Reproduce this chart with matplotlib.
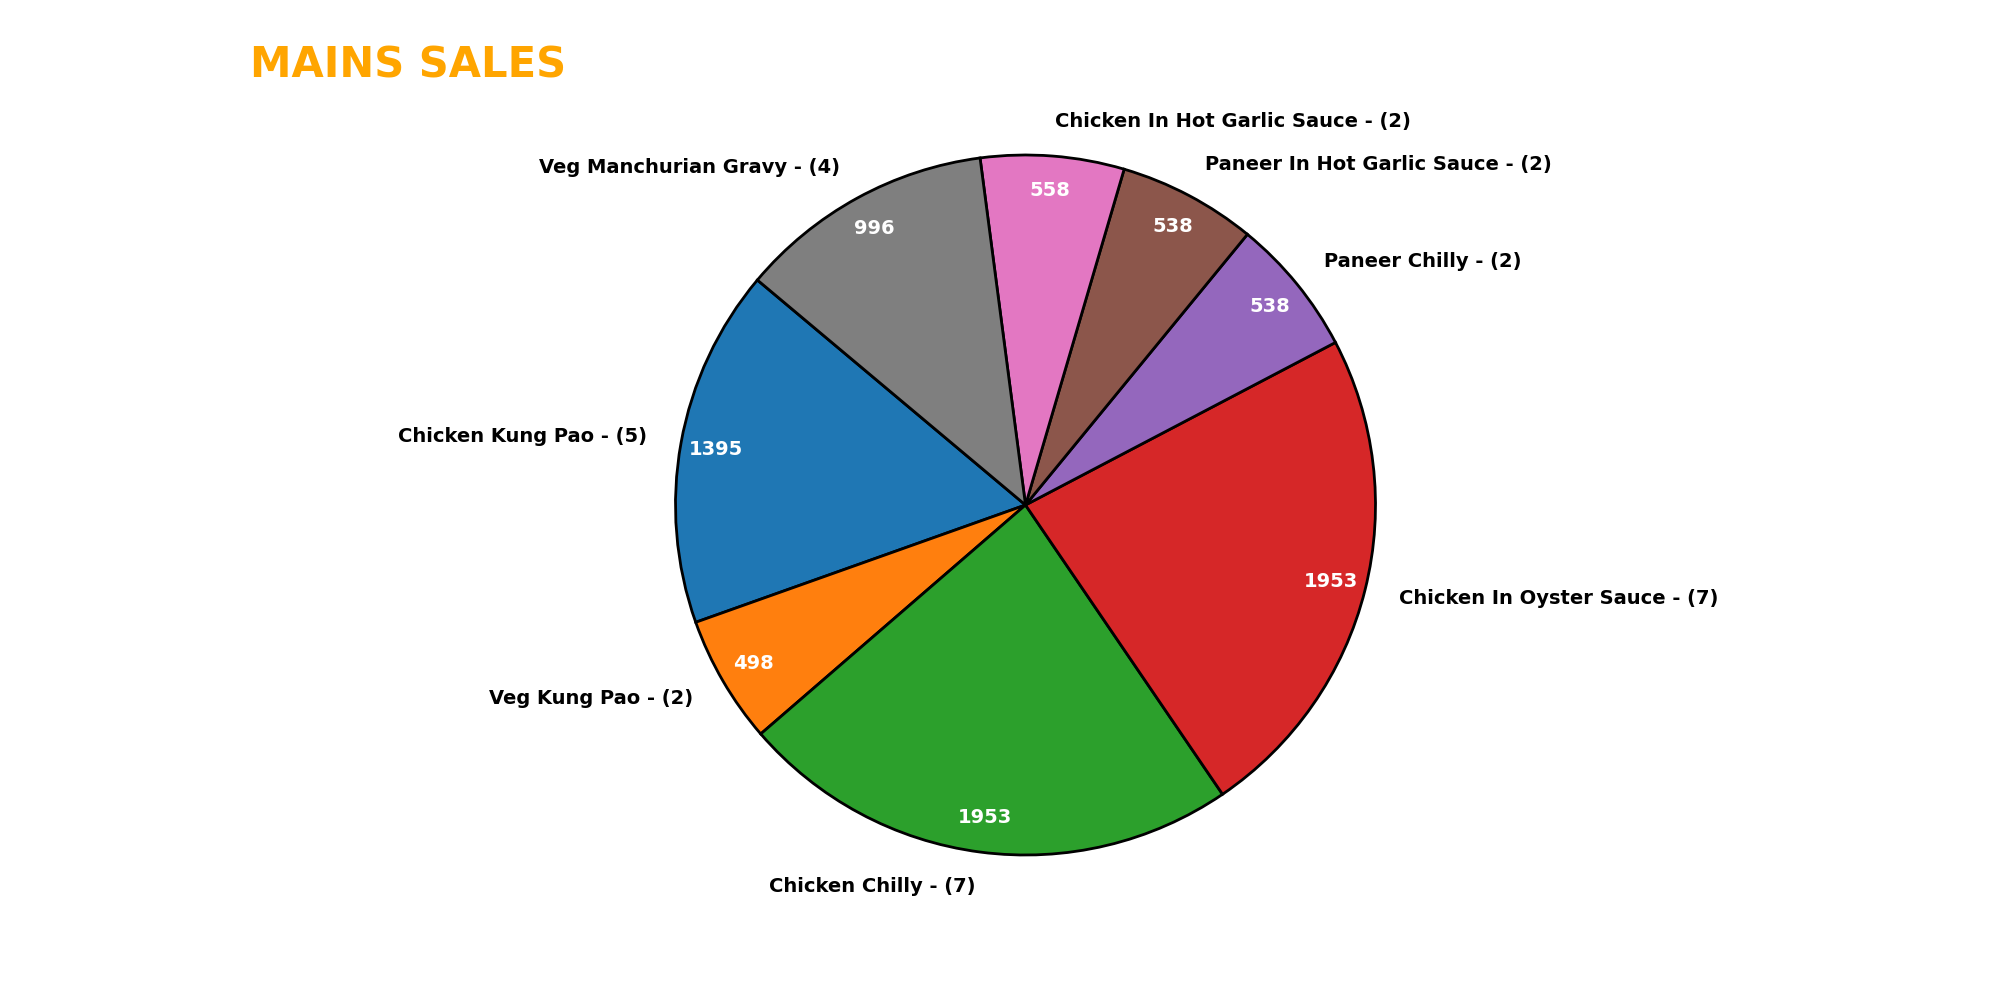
import matplotlib.pyplot as plt

# Sales by dish, in pie order (counter-clockwise)
dishes = [
    "Chicken Kung Pao",
    "Veg Kung Pao",
    "Chicken Chilly",
    "Chicken In Oyster Sauce",
    "Paneer Chilly",
    "Paneer In Hot Garlic Sauce",
    "Chicken In Hot Garlic Sauce",
    "Veg Manchurian Gravy",
]
sales = [1395, 498, 1953, 1953, 538, 538, 558, 996]
orders = [5, 2, 7, 7, 2, 2, 2, 4]


def main():
    fig = plt.figure(figsize=(20, 10), dpi=100)
    ax = fig.add_axes([0.294, 0.0575, 0.4375, 0.875])

    labels = [f"{d} - ({n})" for d, n in zip(dishes, orders)]
    # autopct gives a percentage, turn it back into the sales figure
    total = sum(sales)

    wedges, texts, autotexts = ax.pie(
        sales,
        labels=labels,
        startangle=140,
        pctdistance=0.9,
        autopct=lambda p: f"{round(p * total / 100):d}",
        wedgeprops={"edgecolor": "black", "linewidth": 2},
        textprops={"fontsize": 14, "fontweight": "bold"},
    )
    for t in autotexts:
        t.set_color("white")

    fig.text(0.125, 0.922, "MAINS SALES", color="#FFA500", fontsize=30,
             fontweight="bold", ha="left", va="baseline")

    fig.savefig("out.png")


if __name__ == "__main__":
    main()
